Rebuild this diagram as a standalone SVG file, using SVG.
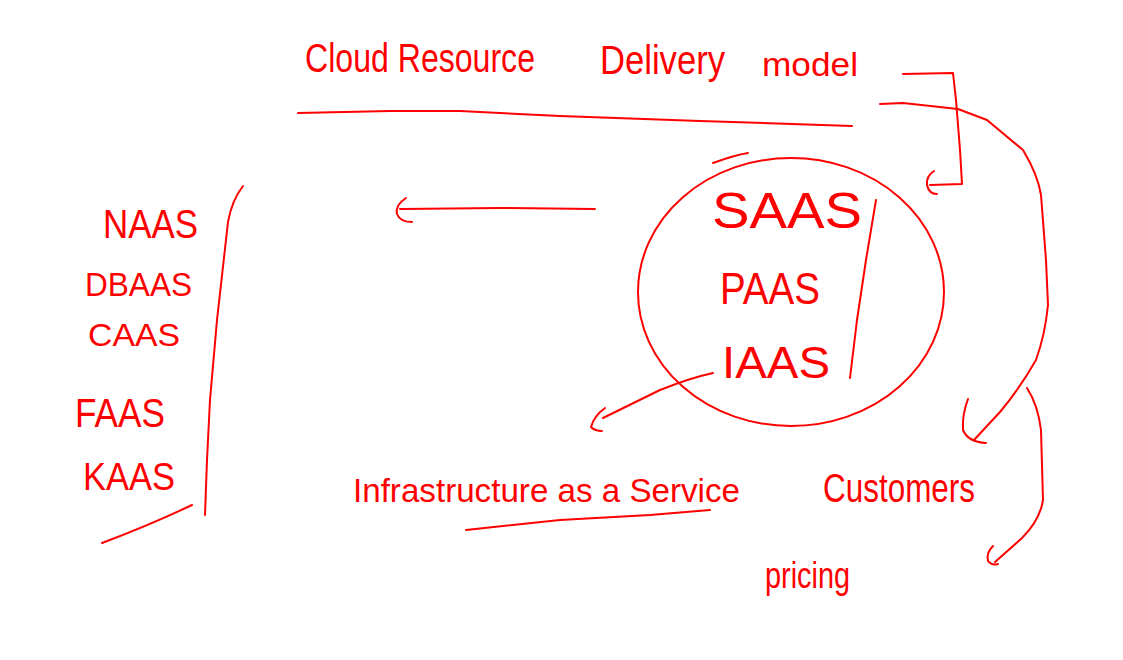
<svg xmlns="http://www.w3.org/2000/svg" width="1123" height="660" viewBox="0 0 1123 660">
<style>
.t{font-family:"Liberation Sans",Arial,sans-serif;fill:#f00}
.s{fill:none;stroke:#f00;stroke-width:2;stroke-linecap:round;stroke-linejoin:round}
</style>
<rect width="1123" height="660" fill="#fff"/>
<g id="title">
<text class="t" x="305" y="72" font-size="40" textLength="230" lengthAdjust="spacingAndGlyphs">Cloud Resource</text>
<text class="t" x="600" y="74" font-size="40" textLength="125" lengthAdjust="spacingAndGlyphs">Delivery</text>
<text class="t" x="762" y="76" font-size="34" textLength="96" lengthAdjust="spacingAndGlyphs">model</text>
<path class="s" d="M298,113 L390,111 L460,111 L560,116 L700,121 L852,126"/>
</g>
<g id="left-list">
<text class="t" x="103" y="238" font-size="40" textLength="95" lengthAdjust="spacingAndGlyphs">NAAS</text>
<text class="t" x="85" y="296" font-size="34" textLength="107" lengthAdjust="spacingAndGlyphs">DBAAS</text>
<text class="t" x="88" y="346" font-size="32" textLength="92" lengthAdjust="spacingAndGlyphs">CAAS</text>
<text class="t" x="75" y="427" font-size="40" textLength="90" lengthAdjust="spacingAndGlyphs">FAAS</text>
<text class="t" x="83" y="490" font-size="38" textLength="92" lengthAdjust="spacingAndGlyphs">KAAS</text>
<path class="s" d="M243,186 Q232,200 228,222 L217,320 L210,400 L207,460 L205,515"/>
<path class="s" d="M192,505 Q150,525 102,543"/>
</g>
<g id="service-circle">
<path class="s" d="M713,163 Q735,155 748,153"/>
<ellipse class="s" cx="791" cy="292" rx="153" ry="134"/>
<text class="t" x="712" y="228" font-size="50" textLength="150" lengthAdjust="spacingAndGlyphs">SAAS</text>
<text class="t" x="720" y="304" font-size="44" textLength="100" lengthAdjust="spacingAndGlyphs">PAAS</text>
<text class="t" x="722" y="378" font-size="44" textLength="108" lengthAdjust="spacingAndGlyphs">IAAS</text>
<path class="s" d="M876,200 L866,260 L857,320 L850,378"/>
</g>
<g id="iaas-label">
<text class="t" x="353" y="502" font-size="34" textLength="387" lengthAdjust="spacingAndGlyphs">Infrastructure as a Service</text>
<path class="s" d="M466,530 L560,520 L650,515 L710,510"/>
</g>
<g id="customers">
<text class="t" x="823" y="502" font-size="40" textLength="152" lengthAdjust="spacingAndGlyphs">Customers</text>
</g>
<g id="pricing">
<text class="t" x="765" y="588" font-size="36" textLength="85" lengthAdjust="spacingAndGlyphs">pricing</text>
</g>
<g id="connectors">
<path class="s" d="M595,209 L500,208 L400,209"/>
<path class="s" d="M406,198 Q395,205 397,214 Q400,222 412,222"/>
<path class="s" d="M713,373 Q690,378 660,390 L603,418"/>
<path class="s" d="M605,408 Q594,416 591,427 Q595,431 602,431"/>
<path class="s" d="M903,74 L953,73 L956,100 L960,150 L962,184 L930,185"/>
<path class="s" d="M934,171 Q926,176 927,185 Q929,194 937,194"/>
<path class="s" d="M880,104 L903,103 L958,109 L987,120 L1023,150 Q1038,175 1041,195 L1046,260 L1048,305 Q1045,335 1036,360 Q1020,388 1000,412 L974,440"/>
<path class="s" d="M968,399 Q962,415 963,430 Q968,442 986,443"/>
<path class="s" d="M1027,388 Q1038,405 1041,430 L1043,500 Q1040,520 1022,538 L995,562"/>
<path class="s" d="M993,546 Q986,553 988,561 Q992,566 998,564"/>
</g>
</svg>
